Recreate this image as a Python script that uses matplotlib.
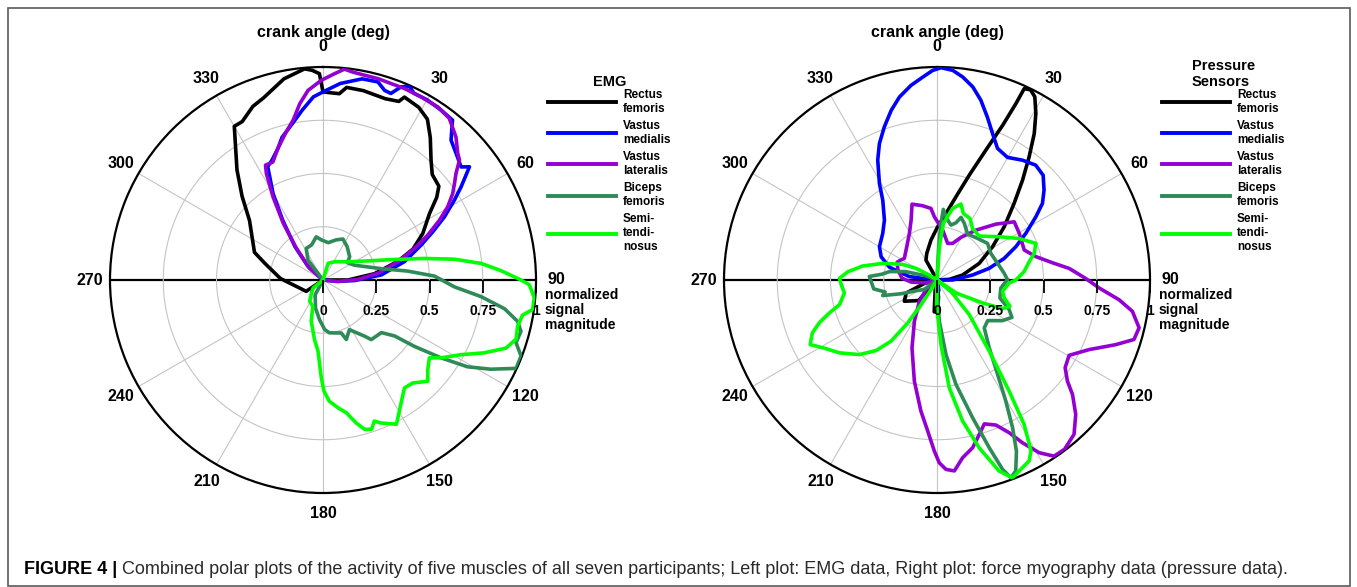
import numpy as np
import matplotlib
matplotlib.use('Agg')
import matplotlib.pyplot as plt
import matplotlib.transforms as mtransforms
from matplotlib.ticker import FixedLocator
from matplotlib.patches import Rectangle

# ---------------- data (angle in degrees, normalized magnitude) ----------------
muscles = ['Rectus\nfemoris', 'Vastus\nmedialis', 'Vastus\nlateralis',
           'Biceps\nfemoris', 'Semi-\ntendi-\nnosus']
colors = ['#000000', '#0000ff', '#9400d3', '#2e8b57', '#00ff00']
theta_labels = [str(d) for d in range(0, 360, 30)]
r_labels = ['0', '0.25', '0.5', '0.75', '1']
r_label_vals = [0, 0.25, 0.5, 0.75, 1.0]

# EMG (left plot)
emg_rf_theta = [0, 236, 272, 286, 292, 309, 316, 322, 330, 333, 338, 342, 349, 355, 357, 359, 0, 5, 7, 12, 19, 23,
                24, 29, 33, 37, 42, 46, 51, 54, 58, 65, 71, 76, 83, 90, 0]
emg_rf_r = [0, 0.095, 0.2, 0.284, 0.347, 0.444, 0.547, 0.656, 0.833, 0.835, 0.879, 0.9, 0.962, 0.995, 0.986, 0.969,
            0.883, 0.878, 0.911, 0.909, 0.9, 0.911, 0.94, 0.927, 0.9, 0.837, 0.758, 0.713, 0.70, 0.66, 0.59, 0.517,
            0.447, 0.362, 0.244, 0.117, 0]

emg_vm_theta = [0, 312, 320, 326, 330, 334, 337, 341, 344, 349, 353, 357, 0, 5, 11, 15.5, 18, 20, 22, 24, 26, 30,
                35, 39, 42.5, 46.5, 50.7, 52.3, 56, 58.7, 62.5, 66.3, 70.4, 77.3, 85, 91, 95, 0]
emg_vm_r = [0, 0.094, 0.205, 0.338, 0.469, 0.592, 0.612, 0.652, 0.697, 0.749, 0.803, 0.861, 0.883, 0.926, 0.962,
            0.965, 0.936, 0.932, 0.978, 0.996, 0.975, 0.977, 0.971, 0.966, 0.89, 0.862, 0.838, 0.869, 0.782, 0.722,
            0.643, 0.563, 0.489, 0.392, 0.275, 0.148, 0.07, 0]

emg_vl_theta = [0, 311, 320, 325, 329, 332, 333.4, 337, 341, 346, 349.4, 352.5, 355.5, 359.5, 3.2, 5.8, 8.2, 11.5,
                15.3, 19.2, 23.1, 28.2, 33.6, 38, 42.9, 46.8, 48.7, 51.3, 53.7, 56.3, 59.6, 62.8, 66.8, 70.9, 76.3,
                83, 89, 96, 0]
emg_vl_r = [0, 0.083, 0.194, 0.325, 0.456, 0.566, 0.603, 0.602, 0.652, 0.716, 0.763, 0.835, 0.893, 0.9375, 0.97,
            0.995, 0.986, 0.981, 0.98, 0.976, 0.977, 0.975, 0.975, 0.963, 0.917, 0.868, 0.853, 0.80, 0.766, 0.732,
            0.679, 0.615, 0.535, 0.455, 0.362, 0.26, 0.164, 0.07, 0]

emg_bf_theta = [0, 323, 332, 342, 351, 358, 8, 18, 26, 36, 49, 54.5, 65, 79, 84, 88, 93, 96, 99, 102, 104.5, 108,
                111, 114.6, 118, 121, 123.4, 126, 128, 132, 141, 143.5, 152, 158.6, 161, 173, 178, 185, 195, 208, 0]
emg_bf_r = [0, 0.117, 0.168, 0.173, 0.205, 0.188, 0.177, 0.198, 0.214, 0.193, 0.166, 0.14, 0.164, 0.279, 0.40,
            0.524, 0.618, 0.746, 0.863, 0.934, 0.96, 0.953, 0.996, 0.997, 0.892, 0.791, 0.664, 0.53, 0.427, 0.369,
            0.36, 0.328, 0.264, 0.30, 0.263, 0.25, 0.233, 0.187, 0.136, 0.078, 0]

emg_st_theta = [0, 17, 32.5, 54, 67, 74, 78, 81, 84, 87, 90, 91.3, 94.8, 98, 100, 103.4, 107, 110.4, 114.3, 118.4,
                123.4, 126.2, 130.5, 134, 139, 143, 147, 153, 158, 160, 162, 164.4, 167, 170, 173.3, 177, 179.5,
                181, 184, 188, 196, 201, 212, 221, 231, 0]
emg_st_r = [0, 0.082, 0.102, 0.145, 0.23, 0.35, 0.487, 0.624, 0.746, 0.837, 0.93, 0.969, 0.995, 0.994, 0.951,
            0.939, 0.948, 0.917, 0.831, 0.737, 0.664, 0.619, 0.647, 0.684, 0.641, 0.635, 0.677, 0.76, 0.724, 0.705,
            0.737, 0.728, 0.688, 0.633, 0.604, 0.57, 0.522, 0.459, 0.335, 0.284, 0.201, 0.133, 0.118, 0.083, 0.06, 0]

# Pressure sensors / FMG (right plot)
fmg_rf_theta = [0, 331, 339, 351.5, 0.7, 7.7, 12.8, 17.1, 20.6, 23, 24.1, 24.5, 26.2, 28.1, 30.7, 33.6, 36.8, 40.6,
                45.2, 51.6, 59.1, 68.5, 79, 87, 0, 175, 179, 185, 190, 0, 222, 237, 247, 255, 0]
fmg_rf_r = [0, 0.107, 0.134, 0.19, 0.25, 0.315, 0.40, 0.515, 0.651, 0.789, 0.907, 0.987, 0.995, 0.975, 0.909, 0.825,
            0.722, 0.617, 0.51, 0.403, 0.304, 0.213, 0.122, 0.058, 0, 0.08, 0.15, 0.15, 0.05, 0, 0.13, 0.183, 0.157,
            0.06, 0]

fmg_vm_theta = [0, 277, 285, 292.6, 300, 310.7, 318.7, 325.8, 329.2, 333.7, 337.1, 341, 344.9, 348.4, 352.4, 356,
                358.8, 1.1, 4.3, 7.2, 10.5, 13.7, 17.2, 20.8, 24.7, 29.9, 35.5, 40.7, 45.4, 50, 54, 57.4, 62.3, 67.1,
                72.2, 77.4, 82, 90, 0, 170, 180, 0]
fmg_vm_r = [0, 0.131, 0.231, 0.284, 0.312, 0.336, 0.374, 0.453, 0.528, 0.628, 0.695, 0.76, 0.825, 0.877, 0.922,
            0.955, 0.984, 0.997, 0.987, 0.961, 0.922, 0.869, 0.80, 0.735, 0.68, 0.664, 0.691, 0.711, 0.70, 0.656,
            0.612, 0.551, 0.471, 0.402, 0.331, 0.251, 0.169, 0.073, 0, 0.05, 0.05, 0]

fmg_vl_theta = [0, 255, 265, 273, 285, 294, 297.2, 303.6, 317.7, 329.3, 336.6, 341.8, 349.1, 355.2, 357.6, 6.5,
                16.2, 23.1, 29.4, 38, 46.5, 53, 60.5, 71, 76.7, 81.5, 85, 89.4, 92.8, 96.2, 99.1, 103.3, 106.8,
                109.9, 114.6, 119.7, 124.4, 127.8, 130.2, 134.1, 138.4, 143, 146.4, 149.4, 152.3, 154.7, 157.9,
                161.8, 164.7, 168, 171.8, 174.8, 177.3, 179.3, 180.9, 183.5, 187, 192.6, 200.2, 208.7, 219.6,
                228.7, 0]
fmg_vl_r = [0, 0.05, 0.12, 0.165, 0.19, 0.205, 0.198, 0.184, 0.211, 0.254, 0.306, 0.375, 0.355, 0.337, 0.297,
            0.236, 0.179, 0.187, 0.23, 0.297, 0.381, 0.454, 0.444, 0.433, 0.477, 0.548, 0.623, 0.698, 0.762, 0.86,
            0.929, 0.975, 0.966, 0.892, 0.785, 0.714, 0.729, 0.775, 0.833, 0.907, 0.969, 0.995, 0.993, 0.942,
            0.863, 0.793, 0.735, 0.711, 0.752, 0.805, 0.843, 0.90, 0.89, 0.858, 0.803, 0.711, 0.62, 0.487, 0.34,
            0.221, 0.13, 0.069, 0]

fmg_bf_theta = [0, 2.9, 4, 5.1, 8.9, 14.3, 18.3, 21, 25.8, 33.7, 44.3, 54.1, 63.7, 74.6, 84.3, 89.7, 97.1, 105.9,
                112.3, 116.5, 121.8, 128.7, 135.4, 142.4, 147.3, 150.4, 152.9, 155.1, 157.6, 159.5, 160.9, 162.7,
                165.5, 169.7, 173.1, 176.8, 178, 0, 233, 241, 249, 254, 257, 262, 269, 273, 276, 280, 285, 290, 0]
fmg_bf_r = [0, 0.157, 0.266, 0.333, 0.293, 0.266, 0.283, 0.315, 0.295, 0.259, 0.273, 0.293, 0.282, 0.295, 0.317,
            0.331, 0.302, 0.307, 0.366, 0.393, 0.362, 0.305, 0.316, 0.402, 0.527, 0.654, 0.779, 0.886, 0.97, 0.991,
            0.941, 0.825, 0.668, 0.498, 0.353, 0.194, 0.085, 0, 0.075, 0.10, 0.18, 0.265, 0.25, 0.30, 0.31, 0.318,
            0.26, 0.227, 0.153, 0.058, 0]

fmg_st_theta = [0, 4, 6.4, 12.3, 17.5, 21.6, 28.2, 34.6, 43.9, 55.2, 63.2, 69.7, 74.7, 78.8, 84.5, 90, 92.4, 99.8,
                105, 109.8, 113.6, 116.7, 124.4, 0, 130, 137, 143.7, 147, 148.9, 151.2, 153, 156.1, 159.1, 162,
                165.9, 169.7, 173.5, 176.5, 181, 0, 211.8, 213, 214.3, 216.9, 220.8, 226.1, 233.2, 239.3, 243, 247,
                250.1, 253, 255.8, 262, 267.2, 271, 275.3, 280.7, 287, 294.5, 299, 303, 0]
fmg_st_r = [0, 0.157, 0.267, 0.344, 0.374, 0.336, 0.328, 0.294, 0.286, 0.356, 0.432, 0.495, 0.473, 0.441, 0.411,
            0.37, 0.339, 0.312, 0.327, 0.364, 0.336, 0.24, 0.108, 0, 0.09, 0.222, 0.415, 0.622, 0.792, 0.916,
            0.953, 0.972, 0.994, 0.943, 0.812, 0.673, 0.51, 0.304, 0.12, 0, 0.053, 0.138, 0.244, 0.359, 0.437,
            0.505, 0.571, 0.623, 0.668, 0.636, 0.587, 0.528, 0.472, 0.439, 0.45, 0.458, 0.42, 0.355, 0.266, 0.177,
            0.113, 0.043, 0]

emg_series = [(emg_rf_theta, emg_rf_r), (emg_vm_theta, emg_vm_r), (emg_vl_theta, emg_vl_r),
              (emg_bf_theta, emg_bf_r), (emg_st_theta, emg_st_r)]
fmg_series = [(fmg_rf_theta, fmg_rf_r), (fmg_vm_theta, fmg_vm_r), (fmg_vl_theta, fmg_vl_r),
              (fmg_bf_theta, fmg_bf_r), (fmg_st_theta, fmg_st_r)]

# ---------------- figure ----------------
W, H, DPI = 1357, 587, 100
fig = plt.figure(figsize=(W / DPI, H / DPI), dpi=DPI)
SANS = ['Liberation Sans', 'DejaVu Sans']
NARROW = ['Liberation Sans Narrow', 'Liberation Sans', 'DejaVu Sans']
R_PX = 213
CY = 280


def fx(x):
    return x / W


def fy(y):
    return 1 - y / H


def make_polar(cx, series, legend_title):
    ax = fig.add_axes([fx(cx - R_PX), fy(CY + R_PX), 2 * R_PX / W, 2 * R_PX / H], projection='polar')
    ax.set_theta_zero_location('N')
    ax.set_theta_direction(-1)
    ax.set_ylim(0, 1)
    ax.set_xticks(np.deg2rad(np.arange(0, 360, 30)))
    ax.set_xticklabels([])
    ax.xaxis.set_minor_locator(FixedLocator(np.deg2rad(np.arange(0, 360, 10))))
    ax.set_yticks([0.25, 0.5, 0.75])
    ax.set_yticklabels([])
    ax.grid(True, color='#c4c4c4', lw=0.8)
    ax.tick_params(axis='x', which='major', direction='in', length=12, width=1.3, colors='k')
    ax.tick_params(axis='x', which='minor', direction='in', length=7, width=1.3, colors='k')
    ax.tick_params(axis='y', length=0)
    ax.spines['polar'].set_linewidth(1.6)
    ax.set_axisbelow(True)
    for i, tick in enumerate(ax.xaxis.get_major_ticks()):
        if i in (3, 9):
            tick.gridline.set_color('k')
            tick.gridline.set_linewidth(1.6)

    handles = []
    for (th, r), c in zip(series, colors):
        h, = ax.plot(np.deg2rad(th), r, color=c, lw=2.6, solid_joinstyle='round', zorder=3)
        handles.append(h)

    # theta labels
    for d, lab in zip(range(0, 360, 30), theta_labels):
        ax.text(np.deg2rad(d), 1.095, lab, ha='center', va='center', family=SANS,
                weight='bold', size=11.5, clip_on=False)
    # radial ticks & labels along the 90 deg axis
    ax.plot(np.full(len(r_label_vals), np.pi / 2), r_label_vals, ls='none', marker=3, ms=9.5, mew=1.3,
            color='k', clip_on=False, zorder=4)
    trans = mtransforms.offset_copy(ax.transData, fig=fig, x=0, y=-31, units='dots')
    for rv, lab in zip(r_label_vals, r_labels):
        ax.text(np.pi / 2, rv, lab, transform=trans, ha='center', va='center', family=SANS,
                weight='bold', size=10, clip_on=False)

    fig.text(fx(cx + 222), fy(288), 'normalized\nsignal\nmagnitude', ha='left', va='top', family=SANS,
             weight='bold', size=10, linespacing=1.08)
    fig.text(fx(cx), fy(33), 'crank angle (deg)', ha='center', va='center', family=SANS,
             weight='bold', size=11.5)

    leg = ax.legend(handles, muscles, loc='lower left', bbox_to_anchor=(fx(cx + 225), fy(253)),
                    bbox_transform=fig.transFigure, frameon=False,
                    prop=dict(family=NARROW, weight='bold', size=8.5),
                    title=legend_title, title_fontproperties=dict(family=SANS, weight='bold', size=10.5),
                    handlelength=5.8, handletextpad=0.55, labelspacing=0.45, borderpad=0, borderaxespad=0)
    leg.get_title().set_multialignment('left')
    try:
        leg._legend_box.sep = 0
    except Exception:
        pass
    for lh in leg.legend_handles:
        lh.set_linewidth(2.8)
    return ax


make_polar(323, emg_series, 'EMG')
make_polar(937, fmg_series, 'Pressure\nSensors')

# outer frame
fig.add_artist(Rectangle((fx(8), fy(585.5)), (1350 - 8) / W, (585.5 - 8) / H, transform=fig.transFigure,
                         fill=False, ec='#5a5a5a', lw=1.2))

# caption
cap_y = fy(569)
t1 = fig.text(fx(24), cap_y, 'FIGURE 4 |', ha='left', va='center', family=SANS, weight='bold', size=13)
fig.canvas.draw()
bb = t1.get_window_extent(renderer=fig.canvas.get_renderer())
fig.text((bb.x1 + 5) / W, cap_y,
         'Combined polar plots of the activity of five muscles of all seven participants; Left plot: EMG data, '
         'Right plot: force myography data (pressure data).',
         ha='left', va='center', family=SANS, size=13, color='#2a2a2a')

fig.savefig('out.png', dpi=DPI)
